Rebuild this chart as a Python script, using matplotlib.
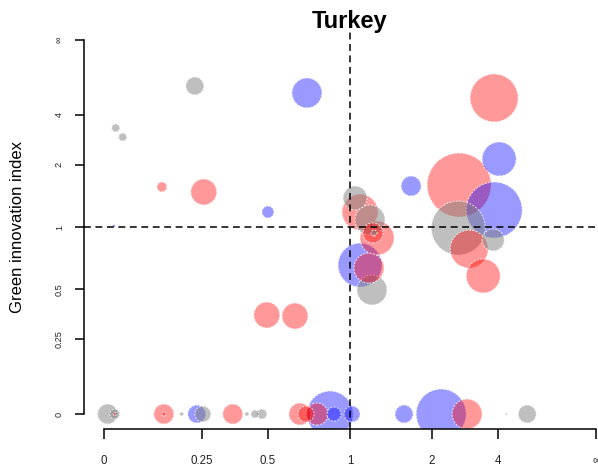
import numpy as np
import matplotlib.pyplot as plt

plt.rcParams['font.family'] = ['Liberation Sans', 'DejaVu Sans']

# values (x: index 1, y: green innovation index, size: bubble radius)
grey_x = [0.227, 0.025, 0.040, 1.042, 1.177, 1.216, 1.196, 2.57, 3.78,
          0.008, 0.023, 0.188, 0.252, 0.41, 0.443, 0.473, 4.47, 6.13]
grey_y = [7.13, 3.25, 2.85, 1.367, 1.078, 0.938, 0.496, 0.989, 0.870,
          0, 0, 0, 0, 0, 0, 0, 0, 0]
grey_size = [9, 4, 4, 12, 15, 3, 15, 27, 11,
             10, 5, 2, 8, 2, 4, 5, 1, 9]

red_x = [3.82, 0.134, 0.255, 2.591, 1.085, 1.247, 1.206, 1.167, 2.874, 3.354,
         0.495, 0.635, 0.023, 0.139, 0.139, 0.355, 0.662, 0.697, 0.763, 2.813]
red_y = [5.45, 1.545, 1.461, 1.579, 1.174, 0.889, 0.938, 0.640, 0.789, 0.585,
         0.36, 0.355, 0, 0, 0, 0, 0, 0, 0, 0]
red_size = [24, 5, 13, 32, 18, 17, 10, 15, 19, 17,
            13, 13, 1.5, 10, 2, 10, 11, 8, 11, 15]

blue_x = [0.7025, 4.07, 0.5, 0.021, 1.66, 3.824, 1.085,
          0.233, 0.850, 0.878, 1.017, 1.5625, 2.175]
blue_y = [6.06, 2.143, 1.174, 1.011, 1.561, 1.2, 0.662,
          0, 0, 0, 0, 0, 0]
blue_size = [15, 17, 6, 1.5, 10, 28, 22,
             9, 23, 7, 8, 9, 25]

tick_vals = [0, 0.25, 0.5, 1, 2, 4, np.inf]
tick_labels = ['0', '0.25', '0.5', '1', '2', '4', '\u221e']


def squash(v):
    v = np.asarray(v, dtype=float)
    with np.errstate(invalid='ignore'):
        return np.where(np.isinf(v), 1.0, v / (1 + v))


fig = plt.figure(figsize=(5.98, 4.72), dpi=100)
ax = fig.add_axes([84 / 598, 43 / 472, 532 / 598, 404 / 472])

# gather the bubbles and draw the big ones first
xs = np.concatenate([grey_x, red_x, blue_x])
ys = np.concatenate([grey_y, red_y, blue_y])
rs = np.concatenate([grey_size, red_size, blue_size])
cols = (['#808080'] * len(grey_x) + ['#ff0000'] * len(red_x)
        + ['#0000ff'] * len(blue_x))
alphas = [0.5] * len(grey_x) + [0.4] * (len(red_x) + len(blue_x))
order = np.argsort(-rs, kind='stable')

for i in order:
    ax.scatter(squash(xs[i]), squash(ys[i]), s=(1.44 * rs[i]) ** 2,
               color=cols[i], alpha=alphas[i], edgecolors='none', zorder=2)
    ax.scatter(squash(xs[i]), squash(ys[i]), s=(1.44 * rs[i]) ** 2,
               facecolors='none', edgecolors='white', linewidths=0.7,
               linestyle=(0, (2, 1.5)), alpha=0.8, zorder=2)

ax.axvline(0.5, color='black', lw=1.1, ls=(0, (4.5, 3)), zorder=3)
ax.axhline(0.5, color='black', lw=1.1, ls=(0, (4.5, 3)), zorder=3)

ax.set_xlim(-0.04, 1.04)
ax.set_ylim(-0.04, 1.04)

for side in ['top', 'right']:
    ax.spines[side].set_visible(False)
for side in ['left', 'bottom']:
    ax.spines[side].set_bounds(0, 1)
    ax.spines[side].set_linewidth(1.1)

ax.set_xticks(squash(tick_vals))
ax.set_xticklabels(tick_labels, fontsize=8.3, color='#222222')
ax.set_yticks(squash(tick_vals))
ax.set_yticklabels(tick_labels, fontsize=6.6, color='#222222',
                   rotation=90, va='center')
ax.tick_params(axis='x', length=7, width=1.1, pad=12)
ax.tick_params(axis='y', length=6.5, width=1.1, pad=8)

fig.text(18 / 598, (472 - 227) / 472, 'Green innovation index',
         rotation=90, ha='center', va='center', fontsize=12)
fig.text(350 / 598, (472 - 28) / 472, 'Turkey', ha='center',
         va='baseline', fontsize=17, fontweight='bold')

fig.savefig('out.png', dpi=100)
plt.close(fig)
